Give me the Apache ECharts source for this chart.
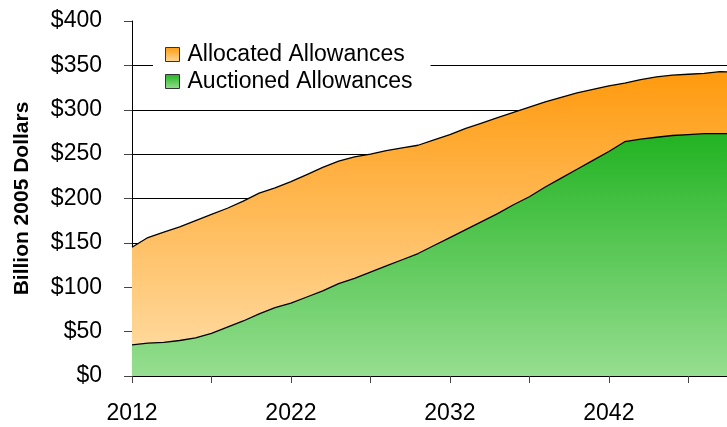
<!DOCTYPE html>
<html>
<head>
<meta charset="utf-8">
<script src="https://cdn.jsdelivr.net/npm/echarts@6/dist/echarts.min.js"></script>
<style>
  html, body { margin: 0; padding: 0; background: #fff; }
  #chart { width: 727px; height: 427px; }
</style>
</head>
<body>
<div id="chart"></div>
<script>
// 年份与两类配额（十亿 2005 美元）
var years = ['2012', '2013', '2014', '2015', '2016', '2017', '2018', '2019', '2020', '2021',
             '2022', '2023', '2024', '2025', '2026', '2027', '2028', '2029', '2030', '2031',
             '2032', '2033', '2034', '2035', '2036', '2037', '2038', '2039', '2040', '2041',
             '2042', '2043', '2044', '2045', '2046', '2047', '2048', '2049', '2050'];

var auctioned = [35, 37, 38, 40, 43, 48, 55, 62, 70, 77,
                 82, 89, 96, 104, 110, 117, 124, 131, 138, 147,
                 156, 165, 174, 183, 193, 202, 213, 223, 233, 243,
                 253, 264, 267, 269, 271, 272, 273, 273, 273];

var allocated = [110, 119, 124, 128, 132, 134, 134, 135, 136, 135,
                 137, 138, 139, 138, 137, 133, 130, 126, 122, 119,
                 116, 114, 111, 108, 104, 101, 96, 91, 86, 80,
                 74, 66, 67, 68, 68, 68, 68, 70, 69];

var yTicks = ['$0', '$50', '$100', '$150', '$200', '$250', '$300', '$350', '$400'];

(function () {
    var myChart = echarts.init(document.getElementById('chart'));

    var font = 'Liberation Sans, Arial, sans-serif';

    // 渐变填充：上深下浅
    var orangeFill = new echarts.graphic.LinearGradient(0, 0, 0, 1, [
        { offset: 0, color: '#ff9a0e' },
        { offset: 1, color: '#ffd89b' }
    ]);
    var greenFill = new echarts.graphic.LinearGradient(0, 0, 0, 1, [
        { offset: 0, color: '#22b322' },
        { offset: 1, color: '#96de90' }
    ]);

    var option = {
        animation: false,
        grid: {//绘图区超出画布右边，2050 被裁掉
            top: 21,
            left: 132,
            width: 604,
            height: 355,
            outerBoundsMode: 'none'
        },
        legend: {
            orient: 'vertical',
            left: 153,
            top: 38,
            padding: [5, 18, 6, 12],
            backgroundColor: '#fff',
            icon: 'rect',
            itemWidth: 14,
            itemHeight: 14,
            itemGap: 4,
            textStyle: {
                fontFamily: font,
                fontSize: 23,
                lineHeight: 23,
                color: '#000',
                padding: [0, 0, 0, 3]
            },
            data: [
                { name: 'Allocated Allowances', itemStyle: { color: orangeFill, borderColor: '#333', borderWidth: 1 } },
                { name: 'Auctioned Allowances', itemStyle: { color: greenFill, borderColor: '#333', borderWidth: 1 } }
            ]
        },
        xAxis: {
            type: 'category',
            boundaryGap: false,
            data: years,
            axisLine: { lineStyle: { color: '#000', width: 1 } },
            axisTick: {
                interval: 4,
                length: 7,
                lineStyle: { color: '#444' }
            },
            axisLabel: {
                interval: 9,
                margin: 26,
                fontFamily: font,
                fontSize: 23,
                color: '#000'
            },
            splitLine: { show: false }
        },
        yAxis: {
            type: 'value',
            min: 0,
            max: 400,
            interval: 50,
            name: 'Billion 2005 Dollars',
            nameLocation: 'middle',
            nameGap: 99,
            nameTextStyle: {
                fontFamily: font,
                fontSize: 21,
                fontWeight: 'bold',
                color: '#000'
            },
            axisLine: { show: true, lineStyle: { color: '#000', width: 1 } },
            axisTick: { show: true, length: 8, lineStyle: { color: '#444' } },
            axisLabel: {
                margin: 30,
                fontFamily: font,
                fontSize: 23,
                color: '#000',
                formatter: function (v) { return yTicks[v / 50]; }
            },
            splitLine: {
                showMaxLine: false,
                lineStyle: { color: '#000', width: 1 }
            }
        },
        series: [{
            name: 'Auctioned Allowances',
            type: 'line',
            stack: 'total',
            data: auctioned,
            showSymbol: false,
            itemStyle: { color: greenFill },
            lineStyle: { color: '#000', width: 1.3 },
            areaStyle: { color: greenFill, opacity: 1 }
        }, {
            name: 'Allocated Allowances',
            type: 'line',
            stack: 'total',
            data: allocated,
            showSymbol: false,
            itemStyle: { color: orangeFill },
            lineStyle: { color: '#000', width: 1.3 },
            areaStyle: { color: orangeFill, opacity: 1 }
        }]
    };

    myChart.setOption(option);
})();
</script>
</body>
</html>
